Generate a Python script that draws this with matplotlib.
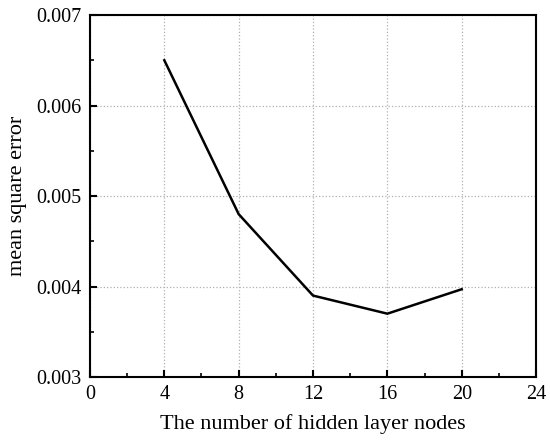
import matplotlib
matplotlib.use('Agg')
import matplotlib.pyplot as plt
from matplotlib.ticker import MultipleLocator

nodes = [4, 8, 12, 16, 20]
mse = [0.0065, 0.0048, 0.0039, 0.0037, 0.00397]

plt.rcParams['font.family'] = ['Liberation Serif', 'DejaVu Serif']

fig = plt.figure(figsize=(5.5, 4.42), dpi=100)
ax = fig.add_axes([0.1636, 0.147, 0.811, 0.819])

ax.plot(nodes, mse, color='black', linewidth=1.8)

ax.set_xlim(0, 24)
ax.set_ylim(0.003, 0.007)
ax.xaxis.set_major_locator(MultipleLocator(4))
ax.xaxis.set_minor_locator(MultipleLocator(2))
ax.yaxis.set_major_locator(MultipleLocator(0.001))
ax.yaxis.set_minor_locator(MultipleLocator(0.0005))
ax.yaxis.set_major_formatter(plt.FormatStrFormatter('%.3f'))

ax.grid(True, which='major', color='#b0b0b0', linestyle=':', linewidth=0.9)
ax.tick_params(which='both', direction='in', top=False, right=False, labelsize=14.5)
ax.tick_params(which='major', length=5, width=1.5)
ax.tick_params(axis='x', which='major', pad=6)
ax.tick_params(axis='y', which='major', pad=6)
ax.tick_params(which='minor', length=3, width=1.2)
for s in ax.spines.values():
    s.set_linewidth(1.5)

ax.set_xlabel('The number of hidden layer nodes', fontsize=16, labelpad=7)
ax.set_ylabel('mean square error', fontsize=16, labelpad=7)

plt.savefig('out.png', dpi=100)
